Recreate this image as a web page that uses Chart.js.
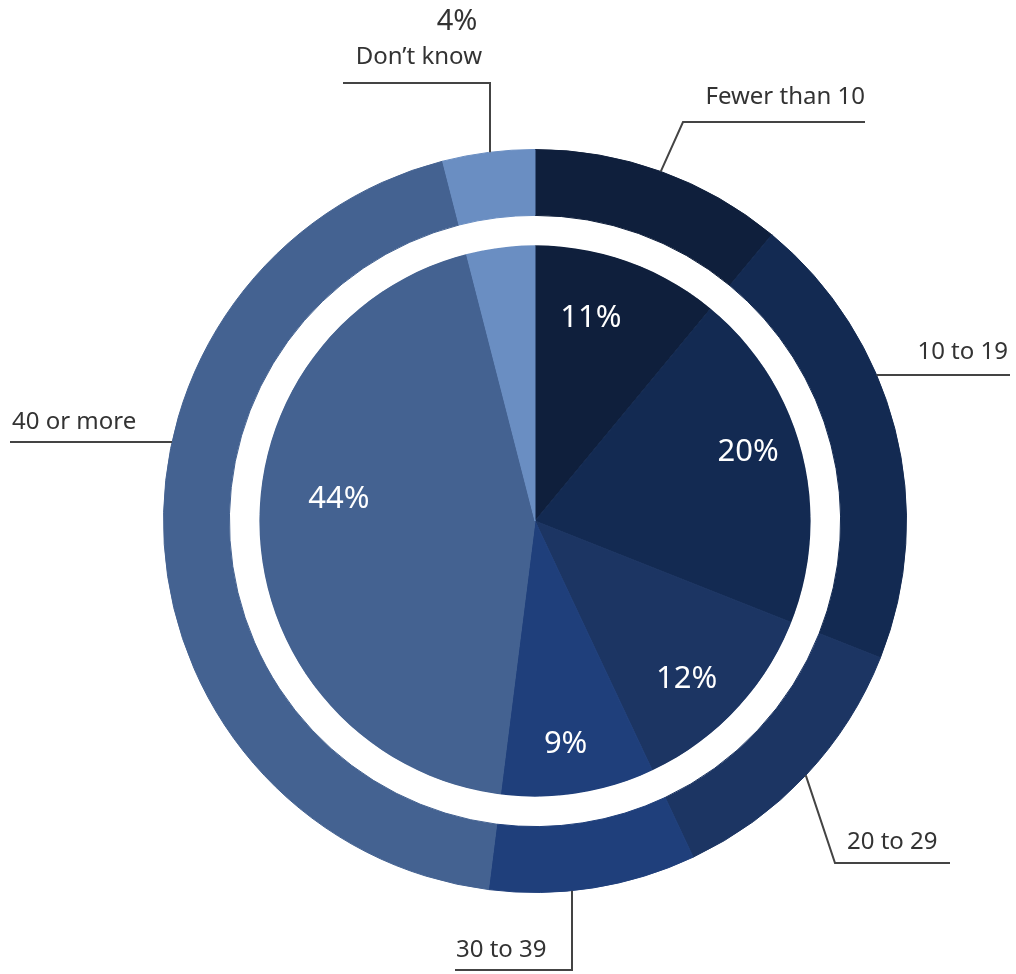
<!DOCTYPE html>
<html>
<head>
<meta charset="utf-8">
<script src="https://cdn.jsdelivr.net/npm/chart.js@4.4.1/dist/chart.umd.min.js"></script>
<style>
  body { margin: 0; background: #fff; }
</style>
</head>
<body>
<canvas id="chart" width="1016" height="974"></canvas>
<script>
// categories and shares (percent), clockwise from 12 o'clock
const categories = ['Fewer than 10', '10 to 19', '20 to 29', '30 to 39', '40 or more', "Don\u2019t know"];
const shares = [11, 20, 12, 9, 44, 4];
const shareLabels = ['11%', '20%', '12%', '9%', '44%', '4%'];
const sliceColors = ['#0f1f3c', '#132a52', '#1c3563', '#1f3f7b', '#446291', '#6a8ec2'];

// nudges for the percentages inside the pie (layout only)
const labelNudge = [[-17, -1], [5, -15], [-5, 11], [-3, 11], [2, -34]];

// leader lines for the category names (layout only)
const leaders = [
  { i: 0, start: 'mid', path: [[683, 122], [865, 122]], tx: 865, ty: 97, align: 'right' },
  { i: 1, start: 'h', y: 375, path: [[1010, 375]], tx: 1008, ty: 352, align: 'right' },
  { i: 2, start: 'mid', path: [[835, 863], [950, 863]], tx: 847, ty: 842, align: 'left' },
  { i: 3, start: 'v', x: 572, path: [[572, 970], [455, 970]], tx: 456, ty: 950, align: 'left' },
  { i: 4, start: 'h', y: 442, path: [[10, 442]], tx: 12, ty: 422, align: 'left' },
  { i: 5, start: 'v', x: 490, path: [[490, 83], [343, 83]], tx: 482, ty: 57, align: 'right' }
];

const labelPlugin = {
  id: 'labels',
  afterDraw(chart) {
    const ctx = chart.ctx;
    const outer = chart.getDatasetMeta(0).data;
    const inner = chart.getDatasetMeta(2).data;
    ctx.save();
    // percentages inside the pie
    ctx.fillStyle = '#fff';
    ctx.font = '31px "Noto Sans"';
    ctx.textAlign = 'center';
    ctx.textBaseline = 'middle';
    inner.forEach((arc, i) => {
      if (i === 5) return;
      const mid = (arc.startAngle + arc.endAngle) / 2;
      const r = arc.outerRadius * (i === 4 ? 0.72 : 0.78);
      ctx.fillText(shareLabels[i], arc.x + Math.cos(mid) * r + labelNudge[i][0], arc.y + Math.sin(mid) * r + labelNudge[i][1]);
    });
    // leader lines and category names
    ctx.strokeStyle = '#444';
    ctx.lineWidth = 2;
    leaders.forEach(l => {
      const arc = outer[l.i];
      const R = arc.outerRadius;
      let sx, sy;
      if (l.start === 'mid') {
        const mid = (arc.startAngle + arc.endAngle) / 2;
        sx = arc.x + Math.cos(mid) * R;
        sy = arc.y + Math.sin(mid) * R;
      } else if (l.start === 'h') {
        const d = Math.sqrt(R * R - (l.y - arc.y) * (l.y - arc.y));
        sy = l.y;
        sx = l.path[0][0] > arc.x ? arc.x + d : arc.x - d;
      } else {
        const d = Math.sqrt(R * R - (l.x - arc.x) * (l.x - arc.x));
        sx = l.x;
        sy = l.path[0][1] > arc.y ? arc.y + d : arc.y - d;
      }
      ctx.beginPath();
      ctx.moveTo(sx, sy);
      l.path.forEach(p => ctx.lineTo(p[0], p[1]));
      ctx.stroke();
      ctx.fillStyle = '#333';
      ctx.font = '24px "Noto Sans"';
      ctx.textAlign = l.align;
      ctx.fillText(categories[l.i], l.tx, l.ty);
    });
    // the small share sits outside
    ctx.font = '29px "Noto Sans"';
    ctx.textAlign = 'center';
    ctx.fillText(shareLabels[5], 457, 22);
    ctx.restore();
  }
};

new Chart(document.getElementById('chart'), {
  type: 'doughnut',
  data: {
    labels: categories,
    datasets: [
      { data: shares, backgroundColor: sliceColors, borderColor: sliceColors, borderWidth: 1, weight: 66 },
      { data: [1], backgroundColor: '#ffffff', borderWidth: 0, weight: 30 },
      { data: shares, backgroundColor: sliceColors, borderColor: sliceColors, borderWidth: 1, weight: 276 }
    ]
  },
  options: {
    responsive: false,
    animation: false,
    events: [],
    cutout: 0,
    layout: { padding: { left: 163, right: 109, top: 149, bottom: 81 } },
    plugins: { legend: { display: false }, tooltip: { enabled: false } }
  },
  plugins: [labelPlugin]
});
</script>
</body>
</html>
